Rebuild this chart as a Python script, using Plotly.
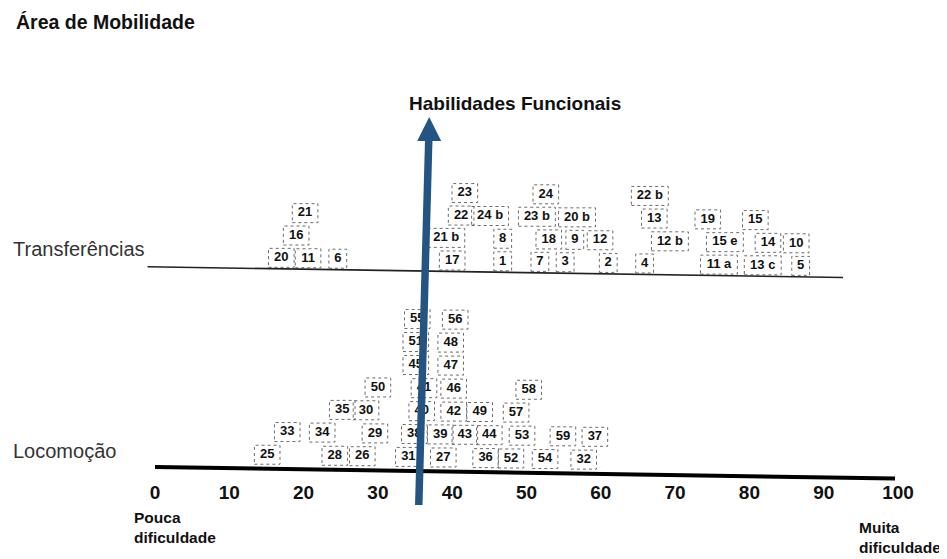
import plotly.graph_objects as go

# ---------------- data ----------------
TRANS_LABELS = ["20", "11", "6", "17", "1", "7", "3", "2", "4", "11 a", "13 c", "5",
                "16", "21 b", "8", "18", "9", "12", "12 b", "15 e", "14", "10",
                "21", "22", "24 b", "23 b", "20 b", "13", "19", "15",
                "23", "24", "22 b"]
TRANS_SCORES = [17.0, 20.6, 24.6, 40.0, 46.8, 51.8, 55.2, 61.0, 65.9, 75.9, 81.8, 86.9,
                19.0, 39.2, 46.8, 53.0, 56.5, 59.9, 69.3, 76.7, 82.5, 86.3,
                20.2, 41.2, 45.1, 51.4, 56.8, 67.2, 74.4, 80.8,
                41.7, 52.6, 66.6]
TRANS_LEVEL = [0] * 12 + [1] * 10 + [2] * 8 + [3] * 3

LOCO_LABELS = ["25", "28", "26", "31", "27", "36", "52", "54", "32",
               "33", "34", "29", "38", "39", "43", "44", "53", "59", "37",
               "35", "30", "40", "42", "49", "57",
               "50", "41", "46", "58",
               "45", "47", "51", "48", "55", "56"]
LOCO_SCORES = [15.1, 24.2, 27.9, 34.1, 38.8, 44.5, 47.9, 52.5, 57.7,
               17.8, 22.5, 29.6, 34.9, 38.4, 41.7, 45.0, 49.4, 54.9, 59.2,
               25.2, 28.4, 35.9, 40.2, 43.7, 48.6,
               30.0, 36.2, 40.2, 50.3,
               35.1, 39.8, 35.1, 39.8, 35.3, 40.4]
LOCO_LEVEL = [0] * 9 + [1] * 10 + [2] * 6 + [3] * 4 + [4, 4, 5, 5, 6, 6]

TICK_VALUES = [0, 10, 20, 30, 40, 50, 60, 70, 80, 90, 100]
TICK_TEXT = ["0", "10", "20", "30", "40", "50", "60", "70", "80", "90", "100"]

ARROW_SCORE_BOTTOM = 35.5
ARROW_SCORE_TOP = 36.9

# ---------------- layout constants ----------------
OFF = 8                  # page body margin in the browser
W, H = 947 - OFF, 559 - OFF
PX_PER_X = 7.43          # pixels per score unit
PX_PER_ROW = 23.0        # pixels per stacking row
X0_PX = 155.0 - OFF      # pixel of score 0 (figure coords)
ROW0_PX = 453.0 - OFF    # pixel row of Locomocao level 0 at score 0
TILT = 0.005             # scan tilt (rows per score unit)
TRANS_BASE = 8.57
TRANS_STEP = 0.98
LOCO_BASE = 0.0
LOCO_STEP = 1.0

x_range = [-X0_PX / PX_PER_X, (W - X0_PX) / PX_PER_X]
y_range = [-(H - ROW0_PX) / PX_PER_ROW, ROW0_PX / PX_PER_ROW]


def px(x):
    return (x - OFF) / W


def py(y):
    return 1 - (y - OFF) / H


def ypos(base, step, level, score):
    return base + step * level - TILT * score


BOLD = "Liberation Sans"
NARROW = "Liberation Sans Narrow, Liberation Sans, Arial Narrow, sans-serif"
ARROW_COLOR = "#245482"

fig = go.Figure()
shapes = []


def add_group(labels, scores, levels, base, step):
    ys = [ypos(base, step, lv, sc) for lv, sc in zip(levels, scores)]
    for lab, sc, yy in zip(labels, scores, ys):
        n = len(lab.replace(" ", ""))
        w_px = 10 + 7.8 * n + 3.5 * lab.count(" ")
        h_px = 19
        shapes.append(dict(type="rect", xref="x", yref="y", layer="below",
                           x0=sc - w_px / 2 / PX_PER_X, x1=sc + w_px / 2 / PX_PER_X,
                           y0=yy - h_px / 2 / PX_PER_ROW, y1=yy + h_px / 2 / PX_PER_ROW,
                           line=dict(color="#6a6a6a", width=1, dash="dot")))
    fig.add_trace(go.Scatter(x=scores, y=ys, mode="text", text=labels,
                             textposition="middle center",
                             textfont=dict(family=BOLD, size=13, color="#111", weight="bold"),
                             hoverinfo="skip"))


add_group(TRANS_LABELS, TRANS_SCORES, TRANS_LEVEL, TRANS_BASE, TRANS_STEP)
add_group(LOCO_LABELS, LOCO_SCORES, LOCO_LEVEL, LOCO_BASE, LOCO_STEP)

# baselines (slightly tilted like the scan)
trans_line_y = TRANS_BASE - 11 / PX_PER_ROW
loco_line_y = LOCO_BASE - 14 / PX_PER_ROW
shapes.append(dict(type="line", xref="x", yref="y", layer="below",
                   x0=-1.0, x1=92.6, y0=trans_line_y + TILT * 1.0, y1=trans_line_y - TILT * 92.6,
                   line=dict(color="#222", width=1.6)))
shapes.append(dict(type="line", xref="x", yref="y", layer="below",
                   x0=0.0, x1=99.6, y0=loco_line_y, y1=loco_line_y - TILT * 99.6,
                   line=dict(color="#000", width=4)))

# arrow (Habilidades Funcionais)
arrow_bottom_y = -(505 - OFF - ROW0_PX) / PX_PER_ROW
arrow_tip_y = (ROW0_PX - (117 - OFF)) / PX_PER_ROW
arrow_line_top = (ROW0_PX - (138 - OFF)) / PX_PER_ROW
fig.add_trace(go.Scatter(x=[ARROW_SCORE_BOTTOM, ARROW_SCORE_TOP - 0.05],
                         y=[arrow_bottom_y, arrow_line_top], mode="lines",
                         line=dict(color=ARROW_COLOR, width=7.5), hoverinfo="skip"))
fig.add_trace(go.Scatter(x=[ARROW_SCORE_TOP], y=[arrow_tip_y], mode="markers",
                         marker=dict(symbol="arrow-up", size=24, color=ARROW_COLOR,
                                     line=dict(width=0)), hoverinfo="skip"))

annotations = [
    dict(text="<b>Área de Mobilidade</b>", x=px(14), y=py(22),
         font=dict(family=BOLD, size=19.5, color="#111")),
    dict(text="<b>Habilidades Funcionais</b>", x=px(407), y=py(103),
         font=dict(family=BOLD, size=19, color="#111")),
    dict(text="Transferências", x=px(11), y=py(249),
         font=dict(family="Liberation Sans", size=20, color="#333")),
    dict(text="Locomoção", x=px(11), y=py(451),
         font=dict(family="Liberation Sans", size=20, color="#333")),
    dict(text="<b>Pouca<br>dificuldade</b>", x=px(132), y=py(527),
         font=dict(family=NARROW, size=15.5, color="#111")),
    dict(text="<b>Muita<br>dificuldade</b>", x=px(857), y=py(537),
         font=dict(family=NARROW, size=15.5, color="#111")),
]
for a in annotations:
    a.update(xref="paper", yref="paper", xanchor="left", yanchor="middle",
             showarrow=False, align="left")

fig.update_layout(
    width=W, height=H,
    margin=dict(l=0, r=0, t=0, b=0),
    paper_bgcolor="white", plot_bgcolor="white",
    showlegend=False,
    shapes=shapes,
    annotations=annotations,
    xaxis=dict(range=x_range, showgrid=False, zeroline=False, showline=False,
               tickmode="array", tickvals=TICK_VALUES, ticktext=TICK_TEXT,
               ticks="", anchor="free", position=py(479),
               tickfont=dict(family=NARROW, size=19, color="#111", weight="bold")),
    yaxis=dict(range=y_range, visible=False, showgrid=False, zeroline=False),
)

fig.write_html("out.html")
